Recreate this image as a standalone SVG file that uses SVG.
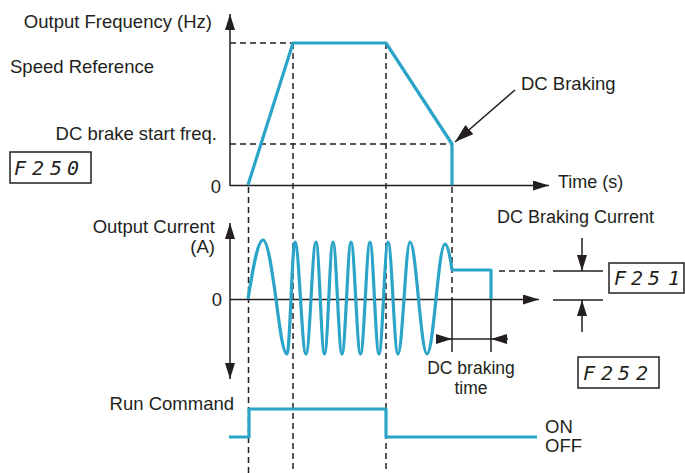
<svg xmlns="http://www.w3.org/2000/svg" width="685" height="473" viewBox="0 0 685 473">
<style>
  text { font-family: "Liberation Sans", Arial, sans-serif; font-size: 18.5px; fill: #231f20; }
  .sm { font-size: 18px; }
  .xs { font-size: 17.5px; }
  .end { text-anchor: end; }
  .mid { text-anchor: middle; }
  .seg { font-family: "DejaVu Sans Mono", monospace; font-style: italic; font-size: 20px; fill: #231f20; }
  .ax { stroke: #231f20; stroke-width: 1.5; fill: none; }
  .dash { stroke: #231f20; stroke-width: 1.5; stroke-dasharray: 6 4; fill: none; }
  .blue { stroke: #2aa4c8; stroke-width: 3.2; fill: none; stroke-linejoin: round; }
  .box { stroke: #231f20; stroke-width: 1.5; fill: #ffffff; }
</style>
<defs>
  <marker id="ah" markerUnits="userSpaceOnUse" markerWidth="16" markerHeight="10" refX="16" refY="5" orient="auto">
    <path d="M0,0 L16,5 L0,10 z" fill="#231f20"/>
  </marker>
  <marker id="ahb" markerUnits="userSpaceOnUse" markerWidth="19" markerHeight="12" refX="19" refY="6" orient="auto">
    <path d="M0,0 L19,6 L0,12 z" fill="#231f20"/>
  </marker>
</defs>

<g id="labels">
  <text class="end" x="212" y="28">Output Frequency (Hz)</text>
  <text x="10" y="73">Speed Reference</text>
  <text class="end" x="217" y="140">DC brake start freq.</text>
  <text class="end" x="221" y="193">0</text>
  <text x="521" y="90">DC Braking</text>
  <text class="sm" x="558" y="188">Time (s)</text>
  <text class="end" x="215" y="233">Output Current</text>
  <text class="end" x="215" y="253">(A)</text>
  <text class="end" x="222" y="306">0</text>
  <text class="sm" x="497" y="223">DC Braking Current</text>
  <text class="mid xs" x="471" y="374">DC braking</text>
  <text class="mid xs" x="471" y="394">time</text>
  <text class="end" x="234" y="410">Run Command</text>
  <text x="545" y="433">ON</text>
  <text x="545" y="452">OFF</text>
</g>

<g id="f250">
  <rect class="box" x="10" y="152" width="81" height="31"/>
  <text class="seg" x="14 32 50 67" y="175">F250</text>
</g>
<g id="f251">
  <rect class="box" x="609" y="263" width="75" height="30"/>
  <text class="seg" x="614 631 648 668" y="285">F251</text>
</g>
<g id="f252">
  <rect class="box" x="578" y="357" width="81" height="31"/>
  <text class="seg" x="583 601 618 636" y="380">F252</text>
</g>

<g id="connectors">
  <!-- axes -->
  <line class="ax" x1="230" y1="186" x2="230" y2="14" marker-end="url(#ah)"/>
  <line class="ax" x1="230" y1="185.5" x2="549" y2="185.5" marker-end="url(#ah)"/>
  <line class="ax" x1="230" y1="300" x2="230" y2="223" marker-end="url(#ah)"/>
  <line class="ax" x1="230" y1="300" x2="230" y2="379" marker-end="url(#ah)"/>
  <line class="ax" x1="230" y1="299.5" x2="539" y2="299.5" marker-end="url(#ah)"/>

  <!-- dashed guides -->
  <line class="dash" x1="230" y1="43" x2="293" y2="43"/>
  <line class="dash" x1="230" y1="144" x2="452" y2="144"/>
  <line class="dash" x1="248.5" y1="187" x2="248.5" y2="473"/>
  <line class="dash" x1="293" y1="43" x2="293" y2="473"/>
  <line class="dash" x1="386" y1="43" x2="386" y2="473"/>
  <line class="dash" x1="452" y1="187" x2="452" y2="299"/>
  <line class="dash" x1="499" y1="271" x2="546" y2="271"/>

  <!-- DC braking callout -->
  <line class="ax" x1="515" y1="90" x2="455" y2="142" marker-end="url(#ahb)"/>

  <!-- DC braking current dimension -->
  <line class="ax" x1="553" y1="271" x2="603" y2="271"/>
  <line class="ax" x1="553" y1="300" x2="603" y2="300"/>
  <line class="ax" x1="582" y1="238" x2="582" y2="271" marker-end="url(#ah)"/>
  <line class="ax" x1="582" y1="332" x2="582" y2="300" marker-end="url(#ah)"/>

  <!-- DC braking time dimension -->
  <line class="ax" x1="452" y1="299" x2="452" y2="352"/>
  <line class="ax" x1="491" y1="299" x2="491" y2="352"/>
  <line class="ax" x1="452" y1="339" x2="491" y2="339"/>
  <line class="ax" x1="436" y1="339" x2="452" y2="339" marker-end="url(#ah)"/>
  <line class="ax" x1="508" y1="339" x2="491" y2="339" marker-end="url(#ah)"/>
</g>

<g id="curves">
  <path class="blue" d="M248,185 L293,43 L386,43 L452,144 L452,185"/>
  <path class="blue" d="M248,299
    C252.9,268.8 257.6,240 263,240
    C267.7,240 271.8,268.8 276,299
    C279.6,327.2 283,354 287,354
    C288.4,354 289.7,327.2 291,299
    C292.3,269.8 293.55,242 295,242
    C297,242 298.7,269.8 300.5,299
    C302.3,327.2 304,354 306,354
    C307.8,354 309.4,327.2 311,299
    C312.6,269.8 314.2,242 316,242
    C317.5,242 318.9,269.8 320.25,299
    C321.6,327.2 323,354 324.5,354
    C326,354 327.4,327.2 328.75,299
    C330.1,269.8 331.5,242 333,242
    C334.6,242 336,269.8 337.5,299
    C339,327.2 340.4,354 342,354
    C343.6,354 345,327.2 346.5,299
    C348,269.8 349.4,242 351,242
    C352.7,242 354.2,269.8 355.75,299
    C357.3,327.2 358.8,354 360.5,354
    C362.2,354 363.7,327.2 365.25,299
    C366.8,269.8 368.3,242 370,242
    C371.6,242 373,269.8 374.5,299
    C376,327.2 377.4,354 379,354
    C380.6,354 382,327.2 383.5,299
    C385,269.8 386.4,242 388,242
    C389.8,242 391.4,269.8 393,299
    C394.6,327.2 396.2,354 398,354
    C400.2,354 402,327.2 404,299
    C406,269.8 407.8,242 410,242
    C413.1,242 415.7,269.8 418.5,299
    C421.3,327.2 423.9,354 427,354
    C430.3,354 433.1,327.2 436,299
    C438.9,270.8 441.7,244 445,244
    C447.5,244 450,255 452,270
    L491,270 L491,299"/>
  <path class="blue" d="M229,437 L249,437 L249,409 L386,409 L386,437 L537,437"/>
</g>
</svg>
